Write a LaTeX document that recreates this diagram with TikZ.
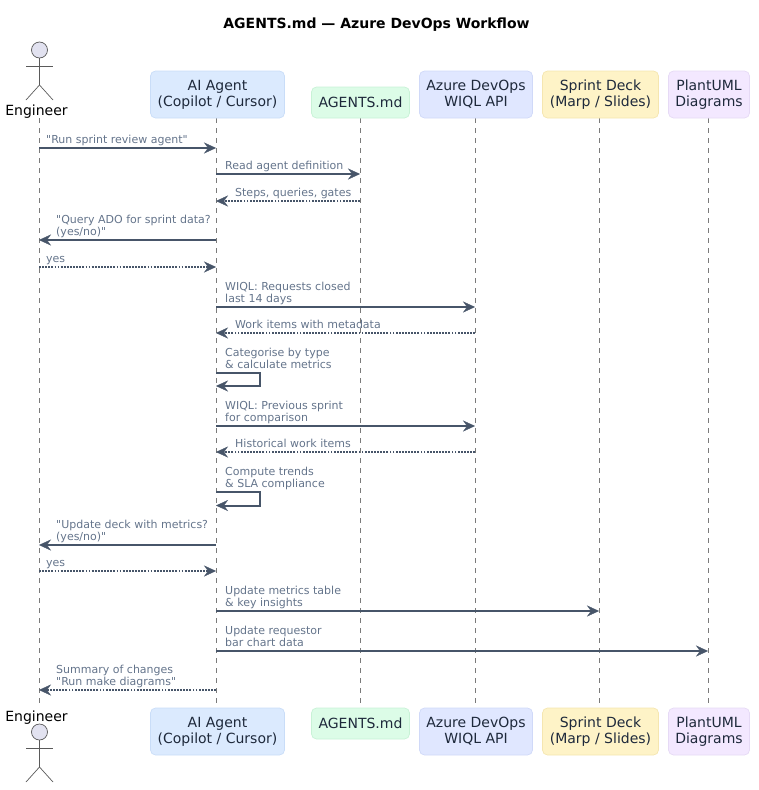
\documentclass[tikz,border=0pt]{standalone}
\usepackage{fontspec}
\setmainfont[Ligatures=TeXOff]{DejaVu Sans}
\usetikzlibrary{arrows.meta}
\definecolor{inkbox}{HTML}{1E293B}
\definecolor{inkmsg}{HTML}{64748B}
\definecolor{inkline}{HTML}{475569}
\definecolor{inklife}{HTML}{7A7A7A}
\definecolor{actorfill}{HTML}{E2E2F0}
\definecolor{actorline}{HTML}{5A5A5A}
\definecolor{aifill}{HTML}{DBEAFE}
\definecolor{aiedge}{HTML}{C9DDF8}
\definecolor{mdfill}{HTML}{DCFCE7}
\definecolor{mdedge}{HTML}{C8F2D6}
\definecolor{adofill}{HTML}{E0E7FF}
\definecolor{adoedge}{HTML}{D0D9F8}
\definecolor{deckfill}{HTML}{FEF3C7}
\definecolor{deckedge}{HTML}{F5E6B0}
\definecolor{umlfill}{HTML}{F3E8FF}
\definecolor{umledge}{HTML}{E6DAF5}
\tikzset{
	part/.style={rounded corners=5pt,line width=.7pt,text=inkbox,align=center,inner sep=0pt,
		font=\fontsize{14}{16}\selectfont},
	lbl/.style={anchor=south west,inner sep=0pt,text=inkmsg,align=left,text depth=3pt,
		font=\fontsize{11}{12.8}\selectfont},
	who/.style={inner sep=0pt,text=black,font=\fontsize{14}{16}\selectfont},
	call/.style={draw=inkline,line width=2pt,-{Stealth[length=12pt,width=11pt,inset=4pt,line width=.3pt]}},
	back/.style={call,dash pattern=on 1.8pt off 1.3pt},
	life/.style={draw=inklife,line width=.8pt,dash pattern=on 5pt off 5pt},
	stick/.style={draw=actorline,line width=.7pt},
}
\begin{document}
\begin{tikzpicture}[x=1pt,y=-1pt]
	\useasboundingbox (0,0) rectangle (759,790);
	\node [inner sep=0pt,font=\bfseries\fontsize{14}{16}\selectfont] (title) at (376.5,25) {AGENTS.md — Azure DevOps Workflow};
	% lifelines
	\node [coordinate] (eng) at (39,118) {};
	\node [coordinate] (ai) at (216,118) {};
	\node [coordinate] (md) at (360,118) {};
	\node [coordinate] (ado) at (475,118) {};
	\node [coordinate] (deck) at (599,118) {};
	\node [coordinate] (uml) at (708,118) {};
	\node [coordinate] (foot) at (0,707) {};
	\foreach \p in {eng,ai,md,ado,deck,uml}
		\draw [life] (\p) -- (\p |- foot);
	% top row
	\node [part,fill=aifill,draw=aiedge,minimum width=134pt,minimum height=47pt] (aiT) at (217.5,94.5) {AI Agent\\(Copilot / Cursor)};
	\node [part,fill=mdfill,draw=mdedge,minimum width=98pt,minimum height=31pt] (mdT) at (360.5,102.5) {AGENTS.md};
	\node [part,fill=adofill,draw=adoedge,minimum width=113pt,minimum height=47pt] (adoT) at (476,94.5) {Azure DevOps\\WIQL API};
	\node [part,fill=deckfill,draw=deckedge,minimum width=116pt,minimum height=47pt] (deckT) at (600.5,94.5) {Sprint Deck\\(Marp / Slides)};
	\node [part,fill=umlfill,draw=umledge,minimum width=81pt,minimum height=47pt] (umlT) at (709,94.5) {PlantUML\\Diagrams};
	% bottom row
	\node [part,fill=aifill,draw=aiedge,minimum width=134pt,minimum height=47pt] (aiB) at (217.5,731.5) {AI Agent\\(Copilot / Cursor)};
	\node [part,fill=mdfill,draw=mdedge,minimum width=98pt,minimum height=31pt] (mdB) at (360.5,723.5) {AGENTS.md};
	\node [part,fill=adofill,draw=adoedge,minimum width=113pt,minimum height=47pt] (adoB) at (476,731.5) {Azure DevOps\\WIQL API};
	\node [part,fill=deckfill,draw=deckedge,minimum width=116pt,minimum height=47pt] (deckB) at (600.5,731.5) {Sprint Deck\\(Marp / Slides)};
	\node [part,fill=umlfill,draw=umledge,minimum width=81pt,minimum height=47pt] (umlB) at (709,731.5) {PlantUML\\Diagrams};
	% engineer, top
	\draw [stick,fill=actorfill] (39.5,50) circle (8);
	\draw [stick] (39.5,58) -- (39.5,85) -- (26,100);
	\draw [stick] (39.5,85) -- (53,100);
	\draw [stick] (26,66) -- (53,66);
	\node [who] (engT) at (36.5,112) {Engineer};
	% engineer, bottom
	\node [who] (engB) at (36.5,718) {Engineer};
	\draw [stick,fill=actorfill] (39.5,732) circle (8);
	\draw [stick] (39.5,740) -- (39.5,767) -- (26,782);
	\draw [stick] (39.5,767) -- (53,782);
	\draw [stick] (26,748) -- (53,748);
	% rows
	\node [coordinate] (r1) at (0,148) {};
	\node [coordinate] (r2) at (0,174) {};
	\node [coordinate] (r3) at (0,201) {};
	\node [coordinate] (r4) at (0,240) {};
	\node [coordinate] (r5) at (0,267) {};
	\node [coordinate] (r6) at (0,307) {};
	\node [coordinate] (r7) at (0,333) {};
	\node [coordinate] (r8) at (0,373) {};
	\node [coordinate] (r8b) at (0,386) {};
	\node [coordinate] (r9) at (0,426) {};
	\node [coordinate] (r10) at (0,452) {};
	\node [coordinate] (r11) at (0,492) {};
	\node [coordinate] (r11b) at (0,505.5) {};
	\node [coordinate] (r12) at (0,545) {};
	\node [coordinate] (r13) at (0,571) {};
	\node [coordinate] (r14) at (0,611) {};
	\node [coordinate] (r15) at (0,651) {};
	\node [coordinate] (r16) at (0,690) {};
	\node [coordinate] (turn) at (260,0) {};
	% messages
	\draw [call] (eng |- r1) -- (ai |- r1);
	\node [lbl] (t1) at (46,147) {"Run sprint review agent"};
	\draw [call] (ai |- r2) -- (md |- r2);
	\node [lbl] (t2) at (225,173) {Read agent definition};
	\draw [back] (md |- r3) -- (ai |- r3);
	\node [lbl] (t3) at (235,200) {Steps, queries, gates};
	\draw [call] (ai |- r4) -- (eng |- r4);
	\node [lbl] (t4) at (56,239) {"Query ADO for sprint data?\\(yes/no)"};
	\draw [back] (eng |- r5) -- (ai |- r5);
	\node [lbl] (t5) at (46,266) {yes};
	\draw [call] (ai |- r6) -- (ado |- r6);
	\node [lbl] (t6) at (225,306) {WIQL: Requests closed\\last 14 days};
	\draw [back] (ado |- r7) -- (ai |- r7);
	\node [lbl] (t7) at (235,332) {Work items with metadata};
	\draw [call] (ai |- r8) -- (turn |- r8) -- (turn |- r8b) -- (ai |- r8b);
	\node [lbl] (t8) at (225,372) {Categorise by type\\\& calculate metrics};
	\draw [call] (ai |- r9) -- (ado |- r9);
	\node [lbl] (t9) at (225,425) {WIQL: Previous sprint\\for comparison};
	\draw [back] (ado |- r10) -- (ai |- r10);
	\node [lbl] (t10) at (235,451) {Historical work items};
	\draw [call] (ai |- r11) -- (turn |- r11) -- (turn |- r11b) -- (ai |- r11b);
	\node [lbl] (t11) at (225,491) {Compute trends\\\& SLA compliance};
	\draw [call] (ai |- r12) -- (eng |- r12);
	\node [lbl] (t12) at (56,544) {"Update deck with metrics?\\(yes/no)"};
	\draw [back] (eng |- r13) -- (ai |- r13);
	\node [lbl] (t13) at (46,570) {yes};
	\draw [call] (ai |- r14) -- (deck |- r14);
	\node [lbl] (t14) at (225,610) {Update metrics table\\\& key insights};
	\draw [call] (ai |- r15) -- (uml |- r15);
	\node [lbl] (t15) at (225,650) {Update requestor\\bar chart data};
	\draw [back] (ai |- r16) -- (eng |- r16);
	\node [lbl] (t16) at (56,689) {Summary of changes\\"Run make diagrams"};
\end{tikzpicture}
\end{document}
